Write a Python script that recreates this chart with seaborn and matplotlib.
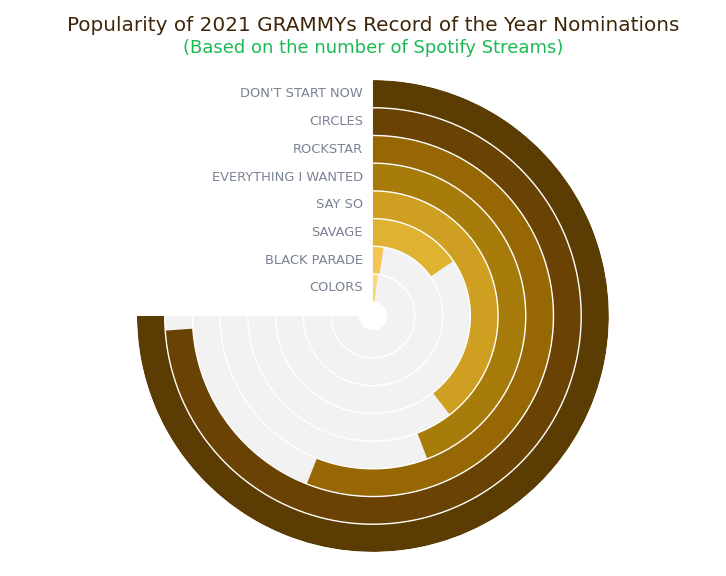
import numpy as np
import matplotlib
matplotlib.use('Agg')
import matplotlib.pyplot as plt
import matplotlib.transforms as mtransforms
import seaborn as sns

# Spotify streams (millions), outermost ring first
songs = ['DON\'T START NOW', 'CIRCLES', 'ROCKSTAR', 'EVERYTHING I WANTED',
         'SAY SO', 'SAVAGE', 'BLACK PARADE', 'COLORS']
streams = [1340, 1320, 1000, 790, 705, 276, 44, 33]
colors = ['#5b3c02', '#6a4203', '#976703', '#a87c0b',
          '#cf9f22', '#dfb232', '#f3c653', '#fbd67a']

sns.set_style('white')
plt.rcParams['font.family'] = ['DejaVu Sans']

fig = plt.figure(figsize=(7.26, 5.76), dpi=100)
ax = fig.add_axes([0.1887, 0.0417, 0.650, 0.8194], projection='polar')
ax.set_theta_zero_location('N')
ax.set_theta_direction(-1)

hole = 0.516
n = len(songs)
ax.set_ylim(0, hole + n)
sweep = 1.5 * np.pi
vmax = max(streams)

# grey background sector (up to second ring)
ax.bar(sweep / 2, n - 1, width=sweep, bottom=hole, color='#f2f2f2',
       align='center', linewidth=0, zorder=0)

for i, (song, val, col) in enumerate(zip(songs, streams, colors)):
    ring = n - 1 - i
    th = val / vmax * sweep
    ax.bar(th / 2, 1, width=th, bottom=hole + ring, color=col,
           align='center', linewidth=0, zorder=2)

# white ring separators
tt = np.linspace(0, sweep, 400)
for k in range(1, n):
    ax.plot(tt, np.full_like(tt, hole + k), color='white', lw=1.0, zorder=3)

lab_tr = mtransforms.offset_copy(ax.transData, fig=fig, x=-10, y=0, units='dots')
for i, song in enumerate(songs):
    ring = n - 1 - i
    ax.text(0, hole + ring + 0.5, song, transform=lab_tr, ha='right', va='center',
            fontsize=9.4, color='#7a8394')

ax.axis('off')

fig.text(0.514, 0.956, 'Popularity of 2021 GRAMMYs Record of the Year Nominations',
         ha='center', va='center', fontsize=14.4, color='#3f2608')
fig.text(0.514, 0.916, '(Based on the number of Spotify Streams)',
         ha='center', va='center', fontsize=13, color='#1db954')

fig.savefig('out.png', dpi=100, facecolor='white')
